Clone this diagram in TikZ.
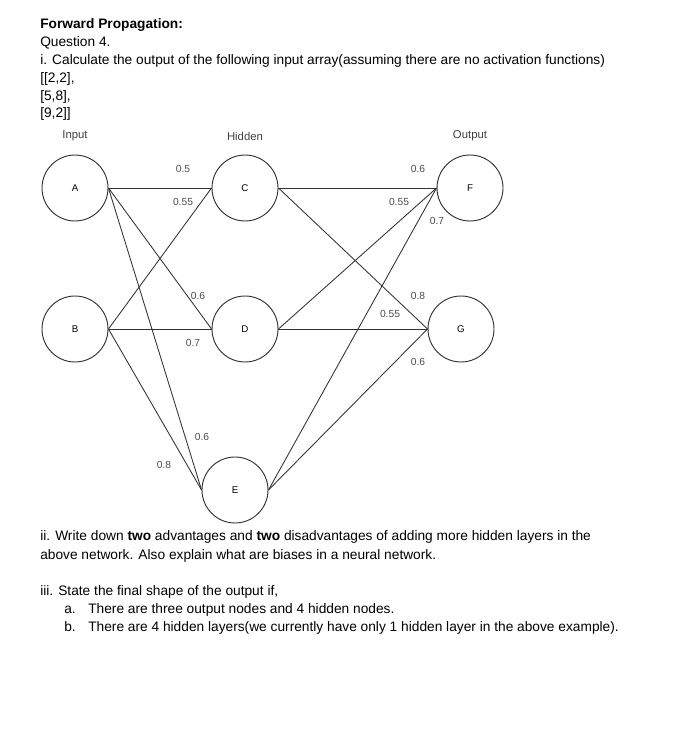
\documentclass[tikz,border=0pt]{standalone}
\usepackage{fontspec}
\setmainfont{Liberation Sans}

\begin{document}
\begin{tikzpicture}[x=0.75pt,y=-0.75pt,
  txt/.style={anchor=base west,inner sep=0pt,font=\fontsize{10.3}{13}\selectfont},
  neuron/.style={circle,draw=black!80,line width=0.7pt,minimum size=49.5pt,inner sep=0pt,font=\fontsize{7.3}{8}\selectfont},
  weight/.style={text=black!70,inner sep=0pt,font=\fontsize{7.7}{9}\selectfont},
  layer/.style={text=black!75,inner sep=0pt,font=\fontsize{8.5}{10}\selectfont},
  link/.style={draw=black!80,line width=0.65pt}]
  \useasboundingbox (0,0) rectangle (679,741);
  % question text
  \node[txt] (title) at (40,29) {\bfseries Forward Propagation:};
  \node[txt] (qnum) at (40,47) {Question 4.};
  \node[txt] (qone) at (40,65) {i. Calculate the output of the following input array(assuming there are no activation functions)};
  \node[txt] (rowa) at (40,83) {[[2,2],};
  \node[txt] (rowb) at (40,100.5) {[5,8],};
  \node[txt] (rowc) at (40,118) {[9,2]]};
  % layers
  \node[layer] (hin) at (75,136) {Input};
  \node[layer] (hhid) at (245,136) {Hidden};
  \node[layer] (hout) at (470,136) {Output};
  \node[neuron] (A) at (75,188) {A};
  \node[neuron] (B) at (75,329) {B};
  \node[neuron] (C) at (245,188) {C};
  \node[neuron] (D) at (245,329) {D};
  \node[neuron] (E) at (235,490) {E};
  \node[neuron] (F) at (470,188) {F};
  \node[neuron] (G) at (461,329) {G};
  \foreach \src in {A,B}
    \foreach \dst in {C,D,E}
      \draw[link] (\src.east) -- (\dst.west);
  \foreach \src in {C,D,E}
    \foreach \dst in {F,G}
      \draw[link] (\src.east) -- (\dst.west);
  % weights
  \node[weight] (wac) at (183,169) {0.5};
  \node[weight] (wbc) at (183,202) {0.55};
  \node[weight] (wad) at (198,296) {0.6};
  \node[weight] (wbd) at (193,343) {0.7};
  \node[weight] (wae) at (202,437) {0.6};
  \node[weight] (wbe) at (164,465) {0.8};
  \node[weight] (wcf) at (418,169) {0.6};
  \node[weight] (wdf) at (399,202) {0.55};
  \node[weight] (wef) at (437,221) {0.7};
  \node[weight] (wcg) at (418,296) {0.8};
  \node[weight] (wdg) at (390,314) {0.55};
  \node[weight] (weg) at (418,362) {0.6};
  % further questions
  \node[txt] (qtwo) at (40,540) {ii. Write down \textbf{two} advantages and \textbf{two} disadvantages of adding more hidden layers in the};
  \node[txt] (qtwob) at (40,559) {above network. Also explain what are biases in a neural network.};
  \node[txt] (qthree) at (40,595) {iii. State the final shape of the output if,};
  \node[txt] (ia) at (64,613) {a.};
  \node[txt] (iat) at (88,613) {There are three output nodes and 4 hidden nodes.};
  \node[txt] (ib) at (64,631.5) {b.};
  \node[txt] (ibt) at (88,631.5) {There are 4 hidden layers(we currently have only 1 hidden layer in the above example).};
\end{tikzpicture}
\end{document}
